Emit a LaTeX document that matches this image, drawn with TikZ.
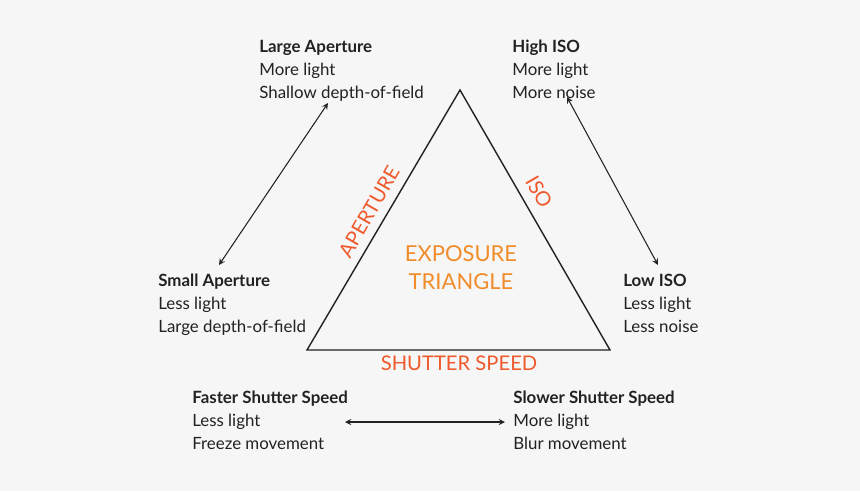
\documentclass[tikz,border=0pt]{standalone}
\usepackage{fontspec}
\setmainfont{Lato}
\usetikzlibrary{positioning}
\definecolor{bgcol}{HTML}{F6F6F6}
\definecolor{redlab}{HTML}{EE5A2C}
\definecolor{orangelab}{HTML}{F08C2A}
\definecolor{inkcol}{HTML}{222222}
\begin{document}
\begin{tikzpicture}[x=0.02cm, y=-0.02cm,
        info/.style={anchor=north west, align=left, inner sep=0pt, font=\fontsize{9.6}{13}\selectfont, text=inkcol},
        side/.style={text=redlab, inner sep=1pt, font=\fontsize{11.5}{13}\selectfont},
        line/.style={draw=inkcol, semithick, <->, >=stealth}]

        % Background
        \fill[bgcol] (0,0) rectangle (860,491);

        % Triangle
        \coordinate (apex) at (460,90);
        \coordinate (left) at (307,350);
        \coordinate (right) at (610,350);
        \draw[inkcol, thick] (apex) -- (left) -- (right) -- cycle;

        % Side labels
        \node[side, rotate=60] (aperture) at (369,212) {APERTURE};
        \node[side, rotate=-60] (iso) at (539,192) {ISO};
        \node[side] (shutter) at (459,363) {SHUTTER SPEED};
        \node[align=center, text=orangelab, font=\fontsize{12.5}{16}\selectfont] (exposure) at (461,268) {EXPOSURE\\TRIANGLE};

        % Info blocks
        \node[info] (large) at (259,40) {\textbf{Large Aperture}\\More light\\Shallow depth-of-field};
        \node[info] (high) at (512,40) {\textbf{High ISO}\\More light\\More noise};
        \node[info] (small) at (158,274) {\textbf{Small Aperture}\\Less light\\Large depth-of-field};
        \node[info] (low) at (623,274) {\textbf{Low ISO}\\Less light\\Less noise};
        \node[info] (faster) at (192,391) {\textbf{Faster Shutter Speed}\\Less light\\Freeze movement};
        \node[info] (slower) at (513,391) {\textbf{Slower Shutter Speed}\\More light\\Blur movement};

        % Arrow ends
        \coordinate (a1) at (328,103);
        \coordinate (a2) at (219,265);
        \coordinate (i1) at (567,97);
        \coordinate (i2) at (658,265);
        \coordinate (s1) at (345,422);
        \coordinate (s2) at (505,422);

        % Connections
        \path [line] (a1) -- (a2);
        \path [line] (i1) -- (i2);
        \path [line] (s1) -- (s2);

    \end{tikzpicture}
\end{document}
